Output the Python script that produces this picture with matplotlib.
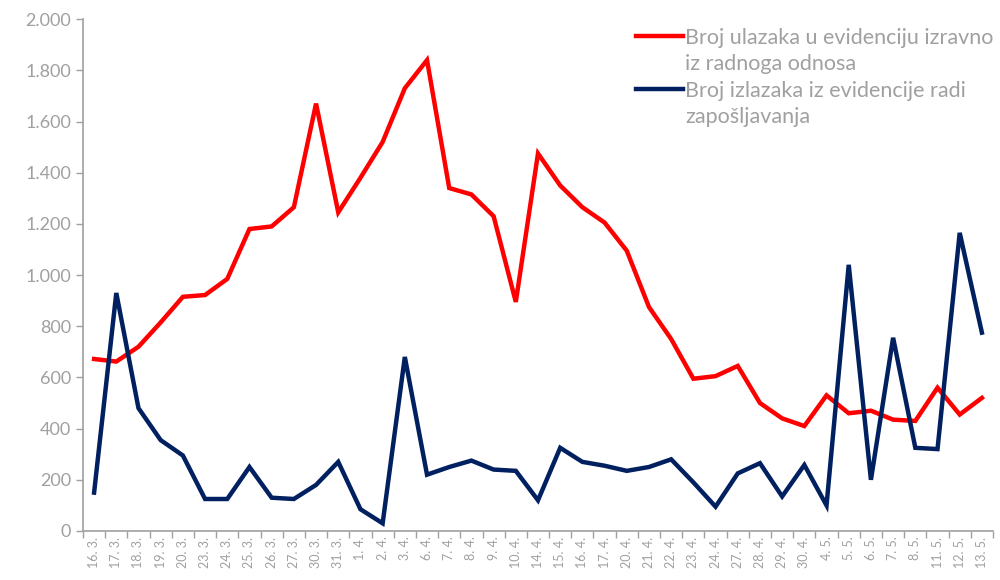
import numpy as np
import matplotlib.pyplot as plt
from matplotlib.lines import Line2D

dates = ['16. 3.', '17. 3.', '18. 3.', '19. 3.', '20. 3.', '23. 3.', '24. 3.', '25. 3.',
         '26. 3.', '27. 3.', '30. 3.', '31. 3.', '1. 4.', '2. 4.', '3. 4.', '6. 4.',
         '7. 4.', '8. 4.', '9. 4.', '10. 4.', '14. 4.', '15. 4.', '16. 4.', '17. 4.',
         '20. 4.', '21. 4.', '22. 4.', '23. 4.', '24. 4.', '27. 4.', '28. 4.', '29. 4.',
         '30. 4.', '4. 5.', '5. 5.', '6. 5.', '7. 5.', '8. 5.', '11. 5.', '12. 5.', '13. 5.']

ulasci = [672, 662, 720, 815, 915, 922, 985, 1180, 1190, 1265, 1670, 1245, 1380, 1520,
          1730, 1840, 1340, 1315, 1230, 895, 1475, 1350, 1265, 1205, 1095, 875, 750, 595,
          605, 645, 500, 440, 410, 530, 460, 470, 435, 430, 560, 455, 520]

izlasci = [150, 930, 480, 355, 295, 125, 125, 250, 130, 125, 180, 270, 85, 30, 680, 220,
           250, 275, 240, 235, 120, 325, 270, 255, 235, 250, 280, 190, 95, 225, 265, 135,
           258, 100, 1040, 200, 755, 325, 320, 1165, 775]

plt.rcParams['font.family'] = ['Lato', 'DejaVu Sans']
grey = '#a0a0a0'

fig = plt.figure(figsize=(10, 5.8), dpi=100)
ax = fig.add_axes([0.083, 0.0845, 0.91, 0.8825])

x = np.arange(len(dates))
red = ax.plot(x, ulasci, color='#ff0000', lw=3.2, solid_joinstyle='miter')[0]
navy = ax.plot(x, izlasci, color='#002060', lw=3.2, solid_joinstyle='miter')[0]

ax.set_xlim(-0.5, len(dates) - 0.5)
ax.set_ylim(0, 2000)
ax.set_yticks(np.arange(0, 2001, 200))
ax.set_yticklabels([f'{v:,}'.replace(',', '.') for v in range(0, 2001, 200)],
                   fontsize=13, color=grey)

ax.set_xticks(x)
ax.set_xticklabels(dates, rotation=90, fontsize=9, color=grey)
ax.set_xticks(np.arange(-0.5, len(dates), 1), minor=True)
ax.tick_params(axis='x', which='major', length=0, pad=4)
ax.tick_params(axis='x', which='minor', length=5, color='#a0a0a0', width=1)
ax.tick_params(axis='y', length=5, color='#a0a0a0', width=1)

for s in ['top', 'right']:
    ax.spines[s].set_visible(False)
for s in ['left', 'bottom']:
    ax.spines[s].set_color('#a0a0a0')
    ax.spines[s].set_linewidth(1.2)

blank = Line2D([], [], color='none')
handles = [red, blank, navy, blank]
labels = ['Broj ulazaka u evidenciju izravno', 'iz radnoga odnosa',
          'Broj izlazaka iz evidencije radi', 'zapošljavanja']
leg = ax.legend(handles, labels, loc='upper right', bbox_to_anchor=(1.01, 1.0),
                frameon=False, fontsize=15.5, handlelength=2.2, handletextpad=0.1,
                labelspacing=0.3, borderaxespad=0)
for t in leg.get_texts():
    t.set_color(grey)

fig.savefig('out.png', dpi=100)
